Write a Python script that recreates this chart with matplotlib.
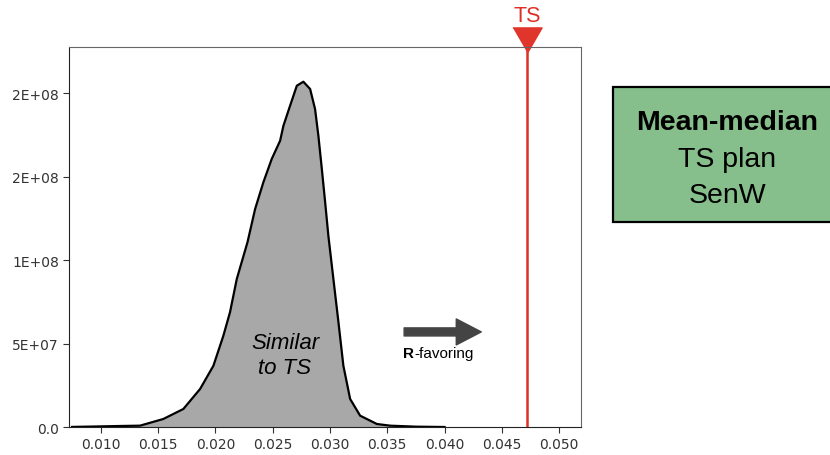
import matplotlib
matplotlib.use("Agg")
import matplotlib.pyplot as plt
import matplotlib.transforms as mtransforms
from matplotlib.patches import Rectangle
from matplotlib.ticker import FuncFormatter

# mean-median values of the ensemble and their density
mm_values = [0.0075, 0.0095, 0.01168, 0.01343, 0.01546, 0.01721, 0.01867, 0.01983,
             0.0207, 0.02128, 0.02187, 0.02281, 0.02347, 0.02419, 0.02492, 0.02565,
             0.02594, 0.02652, 0.02711, 0.02768, 0.02827, 0.0287, 0.02899, 0.02929,
             0.02958, 0.02986, 0.0303, 0.03074, 0.03117, 0.03176, 0.03263, 0.03409,
             0.03525, 0.0375, 0.040]
density = [0.05e6, 0.3e6, 0.6e6, 0.8e6, 4.8e6, 10.8e6, 22.8e6, 36.7e6,
           54.7e6, 68.8e6, 88.7e6, 110.9e6, 130.7e6, 146.7e6, 160.7e6, 171.6e6,
           180.6e6, 192.6e6, 204.6e6, 207.0e6, 202.6e6, 190.6e6, 174.6e6, 154.7e6,
           134.7e6, 114.7e6, 88.7e6, 62.8e6, 36.7e6, 16.8e6, 6.8e6, 1.8e6,
           0.8e6, 0.2e6, 0.0]
ts_value = 0.04718
x_ticks = [0.010, 0.015, 0.020, 0.025, 0.030, 0.035, 0.040, 0.045, 0.050]
y_ticks = [0, 5e7, 1e8, 1.5e8, 2e8]

red = "#dd3127"

fig = plt.figure(figsize=(8.3, 4.56), dpi=100)
ax = fig.add_axes([0.0835, 0.0614, 0.6165, 0.8333])

ax.fill_between(mm_values, density, 0, color="#a8a8a8", lw=0)
ax.plot(mm_values, density, color="black", lw=1.6, solid_joinstyle="round")

ax.set_xlim(0.00726, 0.0519)
ax.set_ylim(0, 2.278e8)
ax.set_xticks(x_ticks)
ax.set_yticks(y_ticks)
ax.yaxis.set_major_formatter(FuncFormatter(lambda v, p: "0.0" if v == 0 else "%.0E" % v))
ax.xaxis.set_major_formatter(FuncFormatter(lambda v, p: "%.3f" % v))
ax.tick_params(labelsize=10, labelcolor="#333333", color="#333333", length=4)
for s in ["left", "bottom"]:
    ax.spines[s].set_color("#222222")
for s in ["top", "right"]:
    ax.spines[s].set_color("#666666")

# TS marker line
ax.axvline(ts_value, color=red, lw=1.8)
trans = mtransforms.blended_transform_factory(ax.transData, ax.transAxes)
ax.plot([ts_value], [1.0197], transform=trans, clip_on=False, color="#e0352b",
        marker=[(-0.58, 0.5), (0.58, 0.5), (0, -0.5)], ms=21, lw=0)
ax.text(ts_value, 1.084, "TS", transform=trans, color=red, fontsize=15.5,
        family="Liberation Sans", ha="center", va="center")

ax.text(0.02608, 43.2e6, "Similar\nto TS", style="italic", fontsize=16,
        family="Liberation Sans", ha="center", va="center", multialignment="center")

# R-favoring arrow
ax.annotate("", xy=(0.0432, 57e6), xytext=(0.03647, 57e6),
            arrowprops=dict(arrowstyle="simple,head_length=1.8,head_width=1.87,tail_width=0.58",
                            mutation_scale=10, color="#444444", shrinkA=0, shrinkB=0))
tR = ax.text(0.03638, 42e6, "R", fontweight="bold", fontsize=11,
             family="Liberation Sans", va="baseline", ha="left")
ax.annotate("-favoring", xy=(1, 0), xycoords=tR, fontsize=11,
            family="Liberation Sans", va="bottom", ha="left")

# label box on the right
fig.add_artist(Rectangle((0.7386, 0.511), 0.3, 0.296, transform=fig.transFigure,
                         facecolor="#86bf8b", edgecolor="black", lw=1.6))
fig.text(0.876, 0.7149, "Mean-median", fontsize=20.5, fontweight="bold",
         family="Liberation Sans", ha="center", va="baseline")
fig.text(0.876, 0.6345, "TS plan", fontsize=20.5, family="Liberation Sans",
         ha="center", va="baseline")
fig.text(0.876, 0.5556, "SenW", fontsize=20.5, family="Liberation Sans",
         ha="center", va="baseline")

fig.savefig("out.png", dpi=100)
